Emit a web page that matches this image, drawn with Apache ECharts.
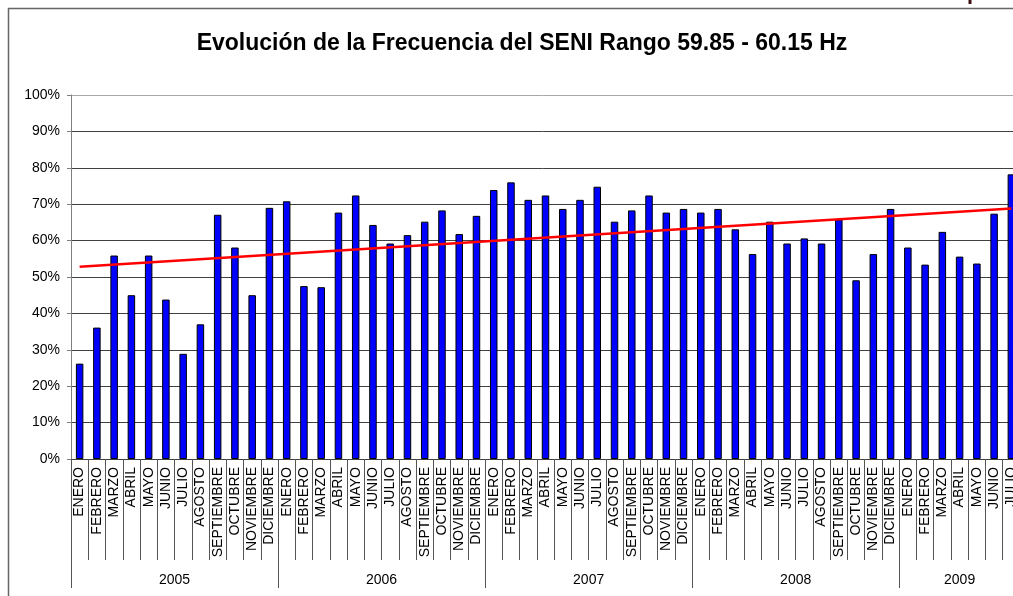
<!DOCTYPE html>
<html lang="es">
<head>
    <meta charset="UTF-8">
    <title>Evolución de la Frecuencia del SENI</title>
    <script src="https://cdn.jsdelivr.net/npm/echarts@6/dist/echarts.min.js"></script>
    <style>
        html, body { margin: 0; padding: 0; background: #fff; overflow: hidden; }
        #chart { width: 1013px; height: 596px; }
    </style>
</head>
<body>
<div id="chart"></div>
<script>
    // meses / años
    var meses = ['ENERO', 'FEBRERO', 'MARZO', 'ABRIL', 'MAYO', 'JUNIO', 'JULIO',
        'AGOSTO', 'SEPTIEMBRE', 'OCTUBRE', 'NOVIEMBRE', 'DICIEMBRE'];
    var anios = ['2005', '2006', '2007', '2008', '2009'];
    var mesesPorAnio = [12, 12, 12, 12, 7];

    // % del tiempo dentro del rango 59.85 - 60.15 Hz
    var v2005 = [26.2, 36.1, 55.9, 45.0, 55.9, 43.8, 28.9, 37.0, 67.1, 58.1, 45.0, 69.0];
    var v2006 = [70.8, 47.5, 47.2, 67.7, 72.4, 64.3, 59.2, 61.5, 65.2, 68.3, 61.8, 66.8];
    var v2007 = [73.9, 76.0, 71.2, 72.4, 68.7, 71.2, 74.8, 65.2, 68.3, 72.4, 67.7, 68.7];
    var v2008 = [67.7, 68.7, 63.1, 56.3, 65.2, 59.2, 60.6, 59.2, 65.8, 49.1, 56.3, 68.7];
    var v2009 = [58.1, 53.4, 62.4, 55.6, 53.7, 67.4, 78.2];

    // tendencia (inicio y fin)
    var tendencia = [52.8, 68.8];

    var yTicks = [0, 10, 20, 30, 40, 50, 60, 70, 80, 90, 100];

    var categorias = [];
    var valores = [].concat(v2005, v2006, v2007, v2008, v2009);
    var cortes = [0];
    var centros = [];
    var acum = 0;
    mesesPorAnio.forEach(function (n) {
        for (var i = 0; i < n; i++) categorias.push(meses[i]);
        centros.push(acum + n / 2);
        acum += n;
        cortes.push(acum);
    });
    var total = categorias.length;
    var lineaTend = categorias.map(function (c, i) {
        if (i === 0) return tendencia[0];
        if (i === total - 1) return tendencia[1];
        return '-';
    });

    var gridColors = yTicks.map(function (t) { return t === 100 ? '#a8a8a8' : '#404040'; });

    var chart = echarts.init(document.getElementById('chart'));
    var option = {
        animation: false,
        backgroundColor: '#fff',
        textStyle: {fontFamily: 'Liberation Sans, Arial, sans-serif'},
        title: {
            text: 'Evolución de la Frecuencia del SENI Rango 59.85 - 60.15 Hz',
            left: 517,
            textAlign: 'center',
            top: 27,
            textStyle: {fontSize: 23, fontWeight: 'bold', color: '#000'}
        },
        graphic: [
            {
                type: 'rect',
                shape: {x: 8.5, y: 8.5, width: 1200, height: 800},
                style: {fill: null, stroke: '#666', lineWidth: 1.5},
                silent: true
            },
            {
                type: 'line',
                shape: {x1: 970, y1: 0, x2: 970, y2: 4},
                style: {stroke: '#401010', lineWidth: 3},
                silent: true
            }
        ],
        grid: {
            left: 71,
            right: -7,
            top: 95,
            bottom: 137,
            containLabel: false,
            outerBoundsMode: 'none'
        },
        xAxis: [
            {
                type: 'category',
                data: categorias,
                boundaryGap: true,
                axisLine: {lineStyle: {color: '#404040', width: 1}},
                axisTick: {show: true, interval: 0, length: 101, lineStyle: {color: '#555'}},
                axisLabel: {
                    interval: 0,
                    rotate: 90,
                    margin: 8,
                    fontSize: 14,
                    color: '#000'
                },
                splitLine: {show: false}
            },
            {
                type: 'value',
                min: 0,
                max: total,
                position: 'bottom',
                axisLine: {show: false},
                axisTick: {
                    show: true,
                    customValues: cortes,
                    length: 129,
                    lineStyle: {color: '#555'}
                },
                axisLabel: {
                    customValues: centros,
                    margin: 114,
                    fontSize: 14,
                    color: '#000',
                    formatter: function (v) {
                        var k = centros.indexOf(v);
                        return k >= 0 ? anios[k] : '';
                    }
                },
                splitLine: {show: false}
            }
        ],
        yAxis: {
            type: 'value',
            min: 0,
            max: 100,
            interval: 10,
            axisLine: {show: true, lineStyle: {color: '#808080'}},
            axisTick: {show: true, length: 4, lineStyle: {color: '#808080'}},
            axisLabel: {formatter: '{value}%', fontSize: 14, color: '#000', margin: 11},
            splitLine: {show: true, lineStyle: {color: gridColors, width: 1}}
        },
        series: [
            {
                name: 'Frecuencia en rango',
                type: 'bar',
                data: valores,
                barWidth: 7.5,
                itemStyle: {color: '#0000ff', borderColor: '#000', borderWidth: 1}
            },
            {
                name: 'Tendencia',
                type: 'line',
                data: lineaTend,
                connectNulls: true,
                symbol: 'none',
                lineStyle: {color: '#ff0000', width: 2.5}
            }
        ]
    };
    chart.setOption(option);
</script>
</body>
</html>
